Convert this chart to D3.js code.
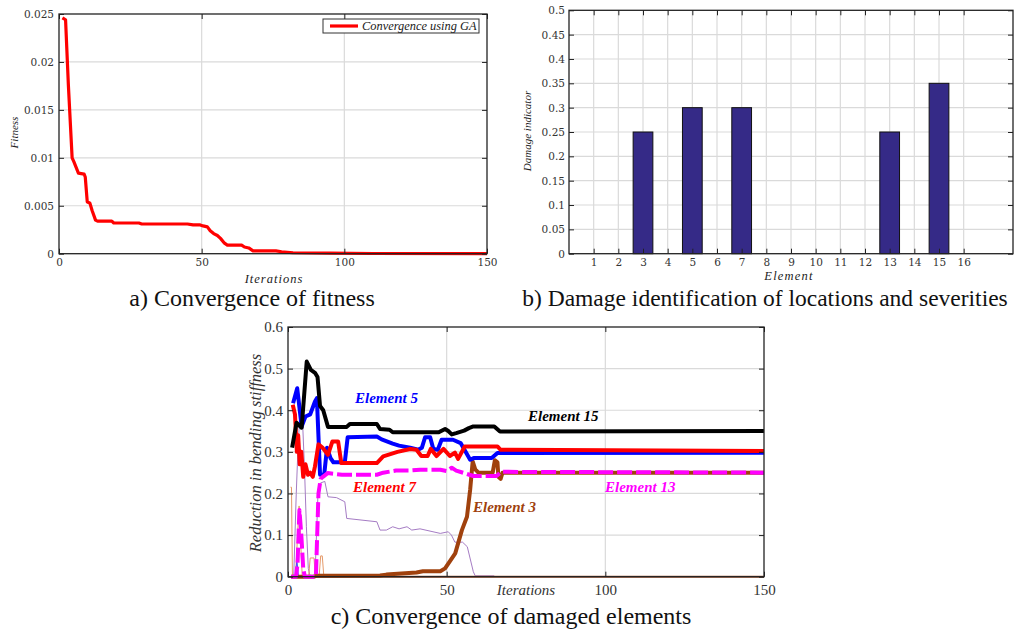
<!DOCTYPE html>
<html><head><meta charset="utf-8">
<script src="https://cdn.jsdelivr.net/npm/d3@7"></script>
<style>body{margin:0;background:#fff}svg{display:block}</style>
</head><body>
<script>
// ---------------- DATA ----------------
// (a) fitness convergence [iteration, fitness]
const fitness = [[1.2,0.0246],[2.3,0.0244],[3.3,0.0175],[4.6,0.0100],[5.2,0.0096],[6.8,0.0084],[8.8,0.0083],[9.2,0.0080],[9.9,0.0054],[10.8,0.0053],[11.6,0.0045],[12.8,0.0035],[13.5,0.0034],[18.5,0.0034],[19.2,0.0032],[28,0.0032],[29,0.0031],[45,0.0031],[47,0.0030],[49.5,0.0030],[50.5,0.0029],[52,0.0028],[53,0.0024],[54.2,0.0021],[55.5,0.0019],[56.6,0.0016],[58,0.0011],[59,0.0009],[64,0.0009],[65,0.0007],[66.5,0.0006],[68,0.0003],[76,0.0003],[78,0.0002],[82,0.0001],[95,0.00005],[110,0.00002],[150,0.00001]];
const fitnessXTicks = [0,50,100,150];
const fitnessYTicks = [0,0.005,0.01,0.015,0.02,0.025];
const fitnessYLabels = ["0","0.005","0.01","0.015","0.02","0.025"];

// (b) damage indicator per element
const elements = [1,2,3,4,5,6,7,8,9,10,11,12,13,14,15,16];
const damage   = [0,0,0.25,0,0.30,0,0.30,0,0,0,0,0,0.25,0,0.35,0];
const damageYTicks = [0,0.05,0.1,0.15,0.2,0.25,0.3,0.35,0.4,0.45,0.5];

// (c) convergence of damaged elements [iteration, reduction]
const elem15 = [[1.3,0.31],[2.7,0.37],[4.3,0.358],[5.9,0.517],[7.2,0.497],[8.5,0.49],[9.3,0.48],[10.1,0.41],[11.1,0.40],[12.6,0.36],[18.5,0.36],[19.5,0.367],[28,0.367],[29,0.355],[32,0.353],[33,0.347],[47.5,0.347],[49.5,0.355],[50.5,0.35],[51.6,0.342],[53,0.345],[55.5,0.351],[57,0.357],[58.4,0.361],[65,0.361],[66.8,0.349],[150,0.35]];
const elem5  = [[1.6,0.417],[2.9,0.453],[4.3,0.361],[5.5,0.385],[7,0.39],[8.5,0.421],[9.1,0.429],[10.1,0.245],[11.4,0.245],[12.3,0.31],[13.4,0.285],[14.3,0.275],[17.9,0.275],[18.8,0.335],[28,0.337],[29.5,0.33],[33,0.32],[35,0.315],[38.5,0.31],[41,0.305],[42.2,0.31],[43.2,0.335],[44.8,0.335],[45.8,0.307],[47.2,0.305],[48.4,0.329],[52,0.329],[54.4,0.321],[57.4,0.281],[58.5,0.285],[64.2,0.285],[66,0.297],[150,0.298]];
const elem7  = [[1.5,0.413],[2.2,0.39],[2.8,0.30],[3.2,0.34],[3.7,0.27],[4.2,0.30],[4.8,0.24],[5.5,0.27],[6.3,0.245],[7,0.25],[7.8,0.24],[8.5,0.265],[9.6,0.318],[11,0.309],[12.6,0.293],[14,0.325],[15.8,0.325],[16.8,0.273],[28,0.273],[30,0.289],[34.5,0.30],[38.5,0.307],[40.5,0.305],[42,0.29],[44,0.29],[45,0.307],[46.8,0.29],[49,0.307],[51,0.29],[52.6,0.298],[53.6,0.283],[55.7,0.313],[66,0.313],[67,0.305],[150,0.302]];
const elem13 = [[1,0],[2.5,0],[3,0.03],[3.6,0.16],[4.2,0.1],[4.8,0.02],[5.3,0],[8.8,0],[9.6,0.20],[10.3,0.235],[11,0.24],[12.5,0.249],[17,0.245],[28,0.245],[30,0.25],[34,0.255],[38,0.255],[41.6,0.257],[48,0.257],[50,0.254],[51.6,0.262],[53,0.255],[58.4,0.242],[65.7,0.242],[67.2,0.252],[150,0.25]];
const elem3  = [[1,0],[8,0],[9,0.002],[29,0.003],[31,0.005],[40.5,0.01],[42.5,0.013],[48,0.013],[49.5,0.02],[52.7,0.056],[54.8,0.112],[56.4,0.144],[57.4,0.209],[58.2,0.277],[59,0.258],[60,0.25],[64.5,0.25],[65.2,0.28],[66,0.275],[66.3,0.24],[67,0.235],[67.6,0.25],[150,0.25]];
const otherA = [[1.8,0],[2.6,0.2],[3.2,0.32],[3.8,0.39],[4.6,0.37],[5.2,0.26],[5.8,0.12],[6.4,0.02],[7,0],[8.5,0],[9.5,0.21],[10.2,0.225],[11.6,0.229],[12.6,0.192],[15.3,0.19],[17.9,0.18],[18.5,0.14],[28,0.132],[29,0.112],[31,0.112],[33,0.12],[35,0.115],[37.5,0.12],[39,0.112],[41.6,0.115],[48,0.104],[50.5,0.108],[51.5,0.1],[52.6,0.083],[55,0.083],[56.5,0.072],[58.4,0.012],[59,0.002],[65,0.002]];
const otherB = [[0.8,0.215],[1.1,0.215],[1.4,0],[2.4,0],[3,0.1],[3.5,0.17],[4,0.08],[4.5,0],[6.5,0],[7,0.045],[8.2,0.045],[8.6,0],[9.8,0],[10.3,0.05],[10.8,0.05],[11.3,0],[20,0]];
const otherC = [[2.3,0],[2.8,0.04],[3.3,0],[4,0]];
const zeroElems = [[1,0],[150,0]];
const convXTicks = [0,50,100,150];
const convYTicks = [0,0.1,0.2,0.3,0.4,0.5,0.6];

// ---------------- DRAW ----------------
const svg = d3.select("body").append("svg").attr("width",1027).attr("height",634);
svg.append("rect").attr("width",1027).attr("height",634).attr("fill","#fff");

const GRID = "#dadada";

function frame(g, xs, ys, xt, yt) {
  const [x0,x1] = xs.range(), [y0,y1] = ys.range(); // y0 bottom
  g.append("g").selectAll("line").data(xt.filter(v => xs(v) > x0+1 && xs(v) < x1-1)).join("line")
    .attr("x1",d=>xs(d)).attr("x2",d=>xs(d)).attr("y1",y1).attr("y2",y0)
    .attr("stroke",GRID).attr("stroke-width",1.2);
  g.append("g").selectAll("line").data(yt.filter(v => ys(v) < y0-1 && ys(v) > y1+1)).join("line")
    .attr("y1",d=>ys(d)).attr("y2",d=>ys(d)).attr("x1",x0).attr("x2",x1)
    .attr("stroke",GRID).attr("stroke-width",1.2);
}

function axes(g, xs, ys, xt, yt, o) {
  const [x0,x1] = xs.range(), [y0,y1] = ys.range();
  const style = sel => {
    sel.select(".domain").remove();
    sel.selectAll(".tick line").attr("stroke","#222").attr("stroke-width",1);
    sel.selectAll(".tick text").attr("font-family",o.font).attr("font-size",o.size).attr("fill","#333");
  };
  g.append("g").attr("transform",`translate(0,${y0})`)
    .call(d3.axisBottom(xs).tickValues(xt).tickSize(-5).tickPadding(o.xpad).tickFormat(o.xfmt || d3.format("d")))
    .call(style);
  g.append("g").attr("transform",`translate(0,${y1})`)
    .call(d3.axisTop(xs).tickValues(xt).tickSize(-5).tickFormat("")).call(style);
  g.append("g").attr("transform",`translate(${x0},0)`)
    .call(d3.axisLeft(ys).tickValues(yt).tickSize(-5).tickPadding(o.ypad).tickFormat(o.yfmt))
    .call(style);
  g.append("g").attr("transform",`translate(${x1},0)`)
    .call(d3.axisRight(ys).tickValues(yt).tickSize(-5).tickFormat("")).call(style);
  g.append("rect").attr("x",x0).attr("y",y1).attr("width",x1-x0).attr("height",y0-y1)
    .attr("fill","none").attr("stroke","#222").attr("stroke-width",1.3);
}

const serifWide = "'DejaVu Serif', serif";
const times = "'Liberation Serif', 'Times New Roman', serif";

// ---- Panel a ----
{
  const g = svg.append("g");
  const xs = d3.scaleLinear().domain([0,150]).range([59,487]);
  const ys = d3.scaleLinear().domain([0,0.025]).range([253.7,14]);
  frame(g, xs, ys, fitnessXTicks, fitnessYTicks);
  const line = d3.line().x(d=>xs(d[0])).y(d=>ys(d[1]));
  g.append("path").datum(fitness).attr("d",line).attr("fill","none")
    .attr("stroke","#ff0000").attr("stroke-width",3.2).attr("stroke-linejoin","round");
  axes(g, xs, ys, fitnessXTicks, fitnessYTicks, {font:serifWide,size:"10.5px",xpad:5,ypad:5,
    yfmt:(d,i)=>fitnessYLabels[i]});
  g.append("rect").attr("x",323).attr("y",19).attr("width",156).attr("height",14)
    .attr("fill","#fff").attr("stroke","#333").attr("stroke-width",1);
  g.append("line").attr("x1",330).attr("x2",358).attr("y1",26).attr("y2",26)
    .attr("stroke","#ff0000").attr("stroke-width",3.2);
  g.append("text").attr("x",362).attr("y",30).attr("font-family",times).attr("font-style","italic")
    .attr("font-size","12.4px").attr("fill","#222").text("Convergence using GA");
  g.append("text").attr("transform","translate(17.5,132.5) rotate(-90)").attr("text-anchor","middle")
    .attr("font-family",times).attr("font-style","italic").attr("font-size","11px").attr("fill","#222").text("Fitness");
  g.append("text").attr("x",274).attr("y",283).attr("text-anchor","middle")
    .attr("font-family",times).attr("font-style","italic").attr("font-size","12.5px").attr("letter-spacing","1px")
    .attr("fill","#222").text("Iterations");
  g.append("text").attr("x",252).attr("y",306).attr("text-anchor","middle")
    .attr("font-family",times).attr("font-size","24px").attr("fill","#111").text("a) Convergence of fitness");
}

// ---- Panel b ----
{
  const g = svg.append("g");
  const xs = d3.scaleLinear().domain([0,18]).range([569,1013]);
  const ys = d3.scaleLinear().domain([0,0.5]).range([253.7,10.3]);
  frame(g, xs, ys, elements, damageYTicks);
  const bw = xs(0.8) - xs(0);
  g.append("g").selectAll("rect").data(elements.map((e,i)=>[e,damage[i]]).filter(d=>d[1]>0)).join("rect")
    .attr("x",d=>xs(d[0])-bw/2).attr("width",bw).attr("y",d=>ys(d[1])).attr("height",d=>ys(0)-ys(d[1]))
    .attr("fill","#352a87").attr("stroke","#111").attr("stroke-width",1);
  axes(g, xs, ys, elements, damageYTicks, {font:serifWide,size:"10.5px",xpad:5,ypad:4,
    yfmt:d=>d3.format("")(+d.toFixed(2))});
  g.append("text").attr("transform","translate(531,131) rotate(-90)").attr("text-anchor","middle")
    .attr("font-family",times).attr("font-style","italic").attr("font-size","11px").attr("fill","#222").text("Damage indicator");
  g.append("text").attr("x",789).attr("y",280).attr("text-anchor","middle")
    .attr("font-family",times).attr("font-style","italic").attr("font-size","12.5px").attr("letter-spacing","1.2px")
    .attr("fill","#222").text("Element");
  g.append("text").attr("x",765).attr("y",306).attr("text-anchor","middle")
    .attr("font-family",times).attr("font-size","23.5px").attr("fill","#111").text("b) Damage identification of locations and severities");
}

// ---- Panel c ----
{
  const g = svg.append("g");
  const xs = d3.scaleLinear().domain([0,150]).range([288,764]);
  const ys = d3.scaleLinear().domain([0,0.6]).range([576.7,327]);
  frame(g, xs, ys, convXTicks, convYTicks);
  const line = d3.line().x(d=>xs(d[0])).y(d=>ys(d[1]));
  const series = [
    {d:otherA, c:"#a57cc4", w:1},
    {d:otherB, c:"#e59a6a", w:1},
    {d:otherC, c:"#4a4aff", w:1},
    {d:zeroElems, c:"#a0522d", w:2},
    {d:elem3, c:"#a0410d", w:4},
    {d:elem5, c:"#0000ff", w:4},
    {d:elem7, c:"#ff0000", w:4},
    {d:elem13, c:"#ff00ff", w:4, dash:"15,4"},
    {d:elem15, c:"#000000", w:4}
  ];
  series.forEach(s => {
    g.append("path").datum(s.d).attr("d",line).attr("fill","none").attr("stroke",s.c)
      .attr("stroke-width",s.w).attr("stroke-linejoin","round").attr("stroke-dasharray",s.dash||null);
  });
  axes(g, xs, ys, convXTicks, convYTicks, {font:times,size:"15px",xpad:8,ypad:5,
    yfmt:d=>d3.format("")(+d.toFixed(1))});
  const lab = (x,y,t,c) => g.append("text").attr("x",x).attr("y",y).attr("font-family",times)
    .attr("font-style","italic").attr("font-weight","bold").attr("font-size","15px").attr("fill",c).text(t);
  lab(355,403,"Element 5","#0000ff");
  lab(528,421,"Element 15","#000000");
  lab(353,492,"Element 7","#ff0000");
  lab(473,512,"Element 3","#a0410d");
  lab(605,492,"Element 13","#ff00ff");
  g.append("text").attr("transform","translate(261,453) rotate(-90)").attr("text-anchor","middle")
    .attr("font-family",times).attr("font-style","italic").attr("font-size","16.5px").attr("fill","#333")
    .text("Reduction in bending stiffness");
  g.append("text").attr("x",526).attr("y",595).attr("text-anchor","middle")
    .attr("font-family",times).attr("font-style","italic").attr("font-size","15px").attr("fill","#333").text("Iterations");
  g.append("text").attr("x",511).attr("y",624).attr("text-anchor","middle")
    .attr("font-family",times).attr("font-size","24px").attr("fill","#111").text("c) Convergence of damaged elements");
}
</script>
</body></html>
